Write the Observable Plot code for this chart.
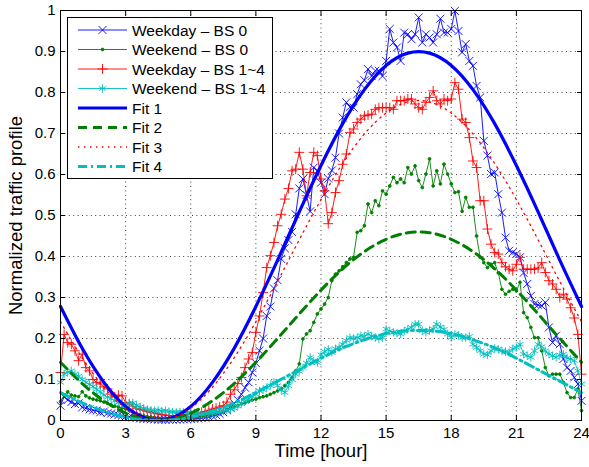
<!DOCTYPE html>
<html><head><meta charset="utf-8">
<script src="https://cdn.jsdelivr.net/npm/d3@7"></script>
<script src="https://cdn.jsdelivr.net/npm/@observablehq/plot@0.6"></script>
<style>
body{margin:0;background:#fff;}
#chart{position:relative;width:589px;height:467px;font-family:"Liberation Sans",Arial,sans-serif;}
#legend{position:absolute;left:67px;top:17px;}
</style></head><body><div id="chart"></div>
<script>
// ---- data (sampled every 10 minutes, 0 h .. 24 h) ----
const sampleStepHours = 1 / 6;
const weekdayBS0 = [
  0.036,0.058,0.05,0.045,0.04,0.042,  0.032,0.03,0.027,0.025,0.024,0.02,
  0.022,0.018,0.017,0.015,0.013,0.012, 0.01,0.009,0.007,0.006,0.005,0.004,
  0.004,0.003,0.003,0.002,0.002,0.002, 0.002,0.002,0.002,0.003,0.003,0.003,
  0.004,0.004,0.005,0.006,0.007,0.009, 0.011,0.013,0.016,0.02,0.025,0.032,
  0.042,0.05,0.064,0.08,0.093,0.117,  0.14,0.17,0.2,0.255,0.278,0.322,
  0.342,0.394,0.42,0.44,0.46,0.503,   0.566,0.589,0.55,0.51,0.617,0.609,
  0.58,0.552,0.59,0.61,0.641,0.70,    0.739,0.776,0.765,0.763,0.796,0.82,
  0.83,0.857,0.84,0.853,0.853,0.84,   0.877,0.955,0.922,0.91,0.877,0.946,
  0.942,0.93,0.942,0.983,0.922,0.942, 0.934,0.922,0.942,0.98,0.946,0.946,
  0.955,0.999,0.95,0.898,0.918,0.877, 0.865,0.816,0.788,0.682,0.646,0.601,
  0.605,0.552,0.507,0.446,0.414,0.41, 0.406,0.398,0.36,0.333,0.304,0.284,
  0.282,0.28,0.288,0.227,0.19,0.207,  0.186,0.15,0.129,0.121,0.105,0.089,
  0.048];
const weekendBS0 = [
  0.046,0.062,0.07,0.062,0.06,0.058,  0.07,0.06,0.055,0.052,0.05,0.048,
  0.045,0.042,0.038,0.035,0.033,0.03, 0.028,0.024,0.02,0.017,0.014,0.011,
  0.009,0.008,0.007,0.006,0.005,0.005, 0.005,0.005,0.005,0.005,0.006,0.006,
  0.007,0.008,0.009,0.01,0.012,0.013, 0.015,0.017,0.02,0.023,0.026,0.03,
  0.033,0.036,0.04,0.043,0.046,0.05,  0.052,0.056,0.058,0.06,0.064,0.068,
  0.072,0.077,0.085,0.093,0.105,0.121, 0.138,0.199,0.211,0.219,0.239,0.26,
  0.272,0.284,0.30,0.341,0.357,0.365, 0.375,0.385,0.394,0.398,0.459,0.463,
  0.475,0.528,0.507,0.536,0.524,0.56, 0.552,0.572,0.593,0.58,0.589,0.58,
  0.617,0.601,0.621,0.585,0.568,0.601, 0.638,0.572,0.609,0.577,0.625,0.601,
  0.577,0.556,0.558,0.51,0.544,0.52,  0.52,0.45,0.398,0.385,0.373,0.381,
  0.385,0.36,0.32,0.308,0.315,0.32,   0.316,0.337,0.263,0.251,0.227,0.202,
  0.202,0.17,0.129,0.109,0.113,0.113, 0.113,0.093,0.068,0.056,0.056,0.077,
  0.024];
const weekdayBS14 = [
  0.117,0.21,0.19,0.186,0.17,0.146,   0.162,0.129,0.121,0.1,0.093,0.089,
  0.082,0.077,0.064,0.058,0.062,0.06, 0.044,0.04,0.035,0.03,0.027,0.025,
  0.022,0.02,0.018,0.016,0.015,0.013, 0.012,0.011,0.011,0.012,0.013,0.014,
  0.015,0.016,0.018,0.02,0.022,0.025, 0.028,0.03,0.033,0.036,0.045,0.064,
  0.075,0.09,0.105,0.129,0.15,0.166,  0.215,0.255,0.312,0.373,0.402,0.434,
  0.475,0.503,0.54,0.566,0.609,0.613, 0.654,0.613,0.548,0.605,0.654,0.646,
  0.589,0.56,0.48,0.507,0.556,0.585,  0.625,0.65,0.702,0.711,0.727,0.735,
  0.743,0.745,0.747,0.759,0.763,0.763, 0.763,0.763,0.759,0.78,0.78,0.78,
  0.784,0.784,0.772,0.763,0.759,0.776, 0.788,0.804,0.78,0.772,0.784,0.78,
  0.784,0.824,0.808,0.735,0.727,0.69, 0.633,0.617,0.536,0.536,0.467,0.43,
  0.41,0.406,0.385,0.375,0.369,0.365, 0.381,0.398,0.369,0.369,0.369,0.369,
  0.372,0.385,0.361,0.341,0.333,0.32, 0.30,0.308,0.296,0.275,0.25,0.21,
  0.113];
const weekendBS14 = [
  0.093,0.113,0.118,0.121,0.113,0.108, 0.1,0.093,0.088,0.083,0.076,0.07,
  0.062,0.057,0.053,0.048,0.044,0.041, 0.038,0.042,0.043,0.037,0.033,0.029,
  0.027,0.025,0.024,0.025,0.023,0.024, 0.022,0.021,0.02,0.021,0.02,0.019,
  0.018,0.016,0.017,0.016,0.017,0.018, 0.019,0.02,0.021,0.023,0.025,0.028,
  0.03,0.035,0.041,0.047,0.053,0.058,  0.064,0.072,0.075,0.08,0.085,0.093,
  0.085,0.075,0.068,0.085,0.1,0.113,   0.12,0.129,0.14,0.154,0.145,0.141,
  0.16,0.168,0.174,0.166,0.175,0.178,  0.186,0.195,0.202,0.2,0.202,0.207,
  0.205,0.211,0.206,0.202,0.2,0.202,   0.223,0.218,0.215,0.213,0.211,0.218,
  0.223,0.227,0.235,0.235,0.219,0.215, 0.22,0.223,0.235,0.228,0.222,0.211,
  0.202,0.211,0.208,0.202,0.202,0.205, 0.186,0.178,0.17,0.162,0.16,0.17,
  0.176,0.174,0.17,0.168,0.166,0.175,  0.178,0.186,0.162,0.158,0.154,0.17,
  0.186,0.18,0.17,0.162,0.158,0.154,   0.16,0.162,0.152,0.15,0.146,0.121,
  0.089];
// fitted profiles, read hourly (0 h .. 24 h)
const fit1 = [0.278,0.176,0.093,0.034,0.004,0.004,0.034,0.093,0.176,0.278,0.391,0.509,0.622,0.724,0.807,0.866,0.896,0.896,0.866,0.807,0.724,0.622,0.509,0.391,0.278];
const fit2 = [0.142,0.090,0.048,0.018,0.002,0.002,0.018,0.048,0.090,0.142,0.200,0.260,0.318,0.370,0.412,0.442,0.458,0.458,0.442,0.412,0.370,0.318,0.260,0.200,0.142];
const fit3 = [0.241,0.153,0.081,0.030,0.003,0.003,0.030,0.081,0.153,0.241,0.339,0.441,0.539,0.627,0.699,0.750,0.777,0.777,0.750,0.699,0.627,0.539,0.441,0.339,0.241];
const fit4 = [0.068,0.043,0.023,0.008,0.001,0.001,0.008,0.023,0.043,0.068,0.096,0.124,0.152,0.177,0.197,0.212,0.219,0.219,0.212,0.197,0.177,0.152,0.124,0.096,0.068];
const fitStepHours = 1;
const xTicks = [0,3,6,9,12,15,18,21,24];
const yTicks = [0,0.1,0.2,0.3,0.4,0.5,0.6,0.7,0.8,0.9,1];
const yTickLabels = ["0","0.1","0.2","0.3","0.4","0.5","0.6","0.7","0.8","0.9","1"];
const seriesNames = ["Weekday \u2013 BS 0","Weekend \u2013 BS 0","Weekday \u2013 BS 1~4","Weekend \u2013 BS 1~4","Fit 1","Fit 2","Fit 3","Fit 4"];
const xLabel = "Time [hour]";
const yLabel = "Normalized traffic profile";

// ---- build tables ----
const toRows = (vals, step) => vals.map((v, i) => ({t: i * step, v}));
const A = toRows(weekdayBS0, sampleStepHours);
const B = toRows(weekendBS0, sampleStepHours);
const C = toRows(weekdayBS14, sampleStepHours);
const D = toRows(weekendBS14, sampleStepHours);
const F1 = toRows(fit1, fitStepHours), F2 = toRows(fit2, fitStepHours), F3 = toRows(fit3, fitStepHours), F4 = toRows(fit4, fitStepHours);

const BLUE = "#0000ff", GREEN = "#008000", RED = "#ff0000", CYAN = "#00bfbf";
const styles = [
  {stroke: BLUE, sw: 0.9, symbol: "times", r: 3.7},
  {stroke: GREEN, sw: 0.9, symbol: "circle", r: 1.4, fill: GREEN},
  {stroke: RED, sw: 0.9, symbol: "plus", r: 3.3},
  {stroke: CYAN, sw: 0.9, symbol: "asterisk", r: 3.9},
  {stroke: BLUE, sw: 3.2},
  {stroke: GREEN, sw: 3, dash: "9,6"},
  {stroke: RED, sw: 1.3, dash: "1.5,4.5"},
  {stroke: CYAN, sw: 3, dash: "9,4,2,4"}
];

const dataSeries = [A, B, C, D];
const fitSeries = [F1, F2, F3, F4];
const marks = [
  Plot.gridX(xTicks, {stroke: "#000", strokeOpacity: 0.75, strokeDasharray: "1,3.4"}),
  Plot.gridY(yTicks, {stroke: "#000", strokeOpacity: 0.75, strokeDasharray: "1,3.4"}),
];
dataSeries.forEach((d, i) => {
  const s = styles[i];
  marks.push(Plot.line(d, {x: "t", y: "v", stroke: s.stroke, strokeWidth: s.sw}));
  marks.push(Plot.dot(d, {x: "t", y: "v", symbol: s.symbol, r: s.r, stroke: s.stroke, fill: s.fill ?? "none", strokeWidth: s.sw}));
});
fitSeries.forEach((d, i) => {
  const s = styles[i + 4];
  marks.push(Plot.line(d, {x: "t", y: "v", stroke: s.stroke, strokeWidth: s.sw, strokeDasharray: s.dash, curve: "natural"}));
});
marks.push(
  Plot.frame({stroke: "#000", strokeWidth: 1}),
  Plot.axisX({ticks: xTicks, anchor: "bottom", tickSize: -5, tickPadding: 12, fontSize: 15, label: null, tickFormat: d => String(d)}),
  Plot.axisX({ticks: xTicks, anchor: "top", tickSize: -5, tickFormat: () => "", label: null}),
  Plot.axisY({ticks: yTicks, anchor: "left", tickSize: -5, tickPadding: 10, fontSize: 15, label: null, tickFormat: (d, i) => yTickLabels[i]}),
  Plot.axisY({ticks: yTicks, anchor: "right", tickSize: -5, tickFormat: () => "", label: null}),
  Plot.text([xLabel], {frameAnchor: "bottom", dy: 36, fontSize: 18.5, textAnchor: "middle", text: d => d}),
  Plot.text([yLabel], {frameAnchor: "left", dx: -44, rotate: -90, fontSize: 18.5, textAnchor: "middle", text: d => d})
);

const chart = Plot.plot({
  width: 589, height: 467,
  marginLeft: 60, marginRight: 8, marginTop: 10, marginBottom: 47,
  x: {domain: [0, 24]},
  y: {domain: [0, 1]},
  style: {fontFamily: "'Liberation Sans', Arial, sans-serif", color: "#000", background: "#fff"},
  marks
});
const host = document.getElementById("chart");
host.appendChild(chart);

// ---- legend ----
const lw = 206, lh = 162, rowH = 19.5, row0 = 13;
const leg = d3.select(host).append("svg").attr("id", "legend").attr("width", lw).attr("height", lh);
leg.append("rect").attr("x", 0.5).attr("y", 0.5).attr("width", lw - 1).attr("height", lh - 1).attr("fill", "#fff").attr("stroke", "#000");
const symMap = {times: d3.symbolTimes, circle: d3.symbolCircle, plus: d3.symbolPlus, asterisk: d3.symbolAsterisk};
seriesNames.forEach((name, i) => {
  const s = styles[i];
  const y = row0 + i * rowH;
  leg.append("line").attr("x1", 11).attr("x2", 60).attr("y1", y).attr("y2", y)
    .attr("stroke", s.stroke).attr("stroke-width", s.sw).attr("stroke-dasharray", s.dash || null);
  if (s.symbol) {
    leg.append("path").attr("transform", `translate(35.5,${y})`)
      .attr("d", d3.symbol(symMap[s.symbol], Math.PI * s.r * s.r)())
      .attr("stroke", s.stroke).attr("stroke-width", s.sw).attr("fill", s.fill || "none");
  }
  leg.append("text").attr("x", 65).attr("y", y).attr("dy", "0.36em")
    .attr("font-size", 15.5).attr("font-family", "'Liberation Sans', Arial, sans-serif").text(name);
});
</script></body></html>
